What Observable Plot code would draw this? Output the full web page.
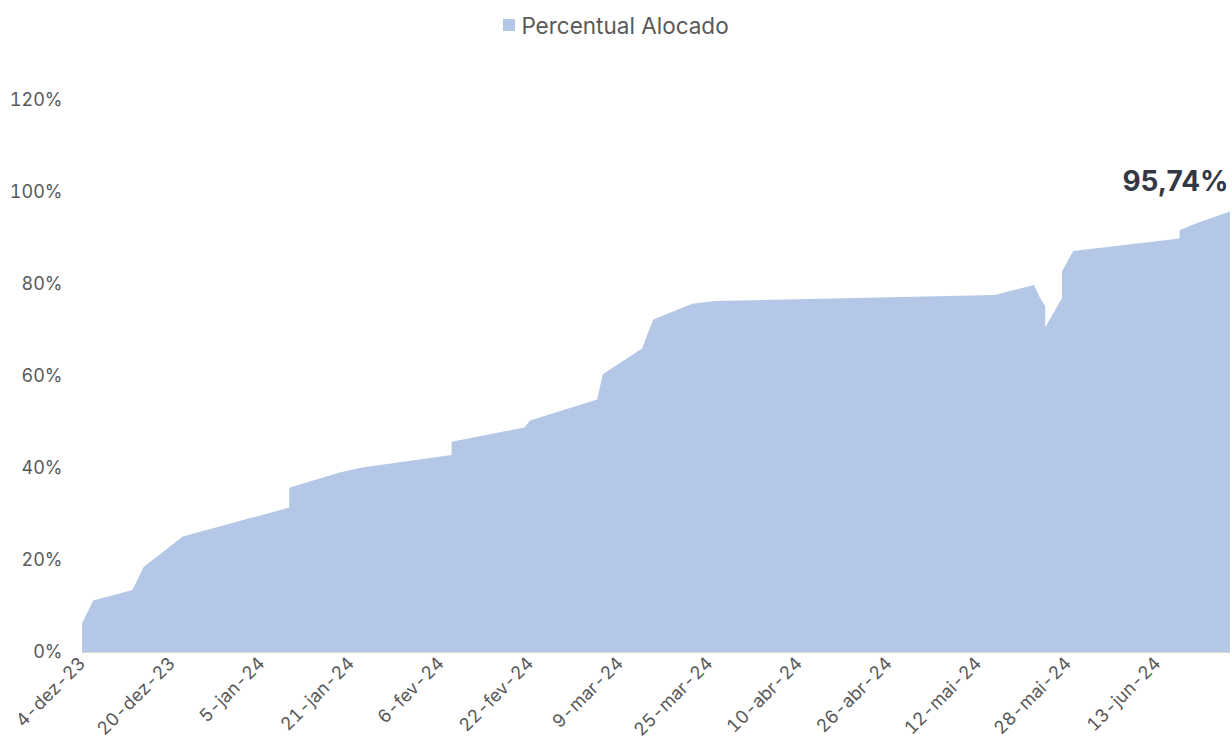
<!DOCTYPE html>
<html>
<head>
<meta charset="utf-8">
<script src="https://cdn.jsdelivr.net/npm/d3@7"></script>
<script src="https://cdn.jsdelivr.net/npm/@observablehq/plot@0.6"></script>
<style>
  body { margin: 0; background: #fff; font-family: Inter, "Open Sans", sans-serif; }
  #legend { height: 50px; display: flex; align-items: center; justify-content: center; color: #595959; font-size: 22.5px; }
  #legend .sw { width: 12px; height: 12px; background: #b4c7e7; margin-right: 6px; }
</style>
</head>
<body>
<div id="legend"><span class="sw"></span><span>Percentual Alocado</span></div>
<div id="chart"></div>
<script>
const dates = [
  "2023-12-04","2023-12-06","2023-12-13","2023-12-15","2023-12-22",
  "2024-01-10","2024-01-10","2024-01-19","2024-01-23",
  "2024-02-08","2024-02-08","2024-02-21","2024-02-22",
  "2024-03-05","2024-03-06","2024-03-13","2024-03-15","2024-03-22","2024-03-26",
  "2024-05-15","2024-05-22","2024-05-23","2024-05-24","2024-05-24",
  "2024-05-27","2024-05-27","2024-05-29",
  "2024-06-17","2024-06-17","2024-06-20","2024-06-26"
];
const values = [
  6.2, 11.2, 13.5, 18.5, 25.1,
  31.4, 35.7, 39.0, 40.1,
  42.8, 45.7, 48.8, 50.3,
  54.9, 60.4, 66.0, 72.3, 75.7, 76.3,
  77.6, 79.8, 77.2, 75.1, 70.6,
  76.9, 82.7, 87.2,
  89.9, 91.7, 93.2, 95.74
];
const tickDates = ["2023-12-04","2023-12-20","2024-01-05","2024-01-21","2024-02-06","2024-02-22",
  "2024-03-09","2024-03-25","2024-04-10","2024-04-26","2024-05-12","2024-05-28","2024-06-13"];
const monthNames = ["jan","fev","mar","abr","mai","jun","jul","ago","set","out","nov","dez"];
const yTicks = [0, 20, 40, 60, 80, 100, 120];
const lastLabel = "95,74%";

const data = dates.map((d, i) => ({date: new Date(d + "T00:00:00Z"), value: values[i]}));
const fmt = d => `${d.getUTCDate()}-${monthNames[d.getUTCMonth()]}-${String(d.getUTCFullYear()).slice(2)}`;

const chart = Plot.plot({
  width: 1232,
  height: 704,
  marginTop: 50,
  marginBottom: 102,
  marginLeft: 82,
  marginRight: 2,
  style: {fontFamily: "Inter, 'Open Sans', sans-serif", background: "#fff"},
  x: {type: "utc", domain: [new Date("2023-12-04T00:00:00Z"), new Date("2024-06-26T00:00:00Z")]},
  y: {domain: [0, 120]},
  marks: [
    Plot.areaY(data, {x: "date", y1: 0, y2: "value", fill: "#b4c7e7", curve: "linear"}),
    Plot.ruleY([0], {stroke: "#d9d9d9", strokeWidth: 1}),
    Plot.axisY({ticks: yTicks, tickFormat: d => d + "%", tickSize: 0, tickPadding: 20, fontSize: 18, color: "#595959", label: null}),
    Plot.axisX({ticks: tickDates.map(d => new Date(d + "T00:00:00Z")), tickFormat: fmt, tickSize: 0, tickPadding: 8, tickRotate: -45, fontSize: 18, color: "#595959", label: null}),
    Plot.text([data[data.length - 1]], {x: "date", y: "value", text: () => lastLabel, textAnchor: "end", dy: -30, dx: -2, fontSize: 28, fontWeight: "bold", fill: "#333844"})
  ]
});
document.getElementById("chart").appendChild(chart);
</script>
</body>
</html>
